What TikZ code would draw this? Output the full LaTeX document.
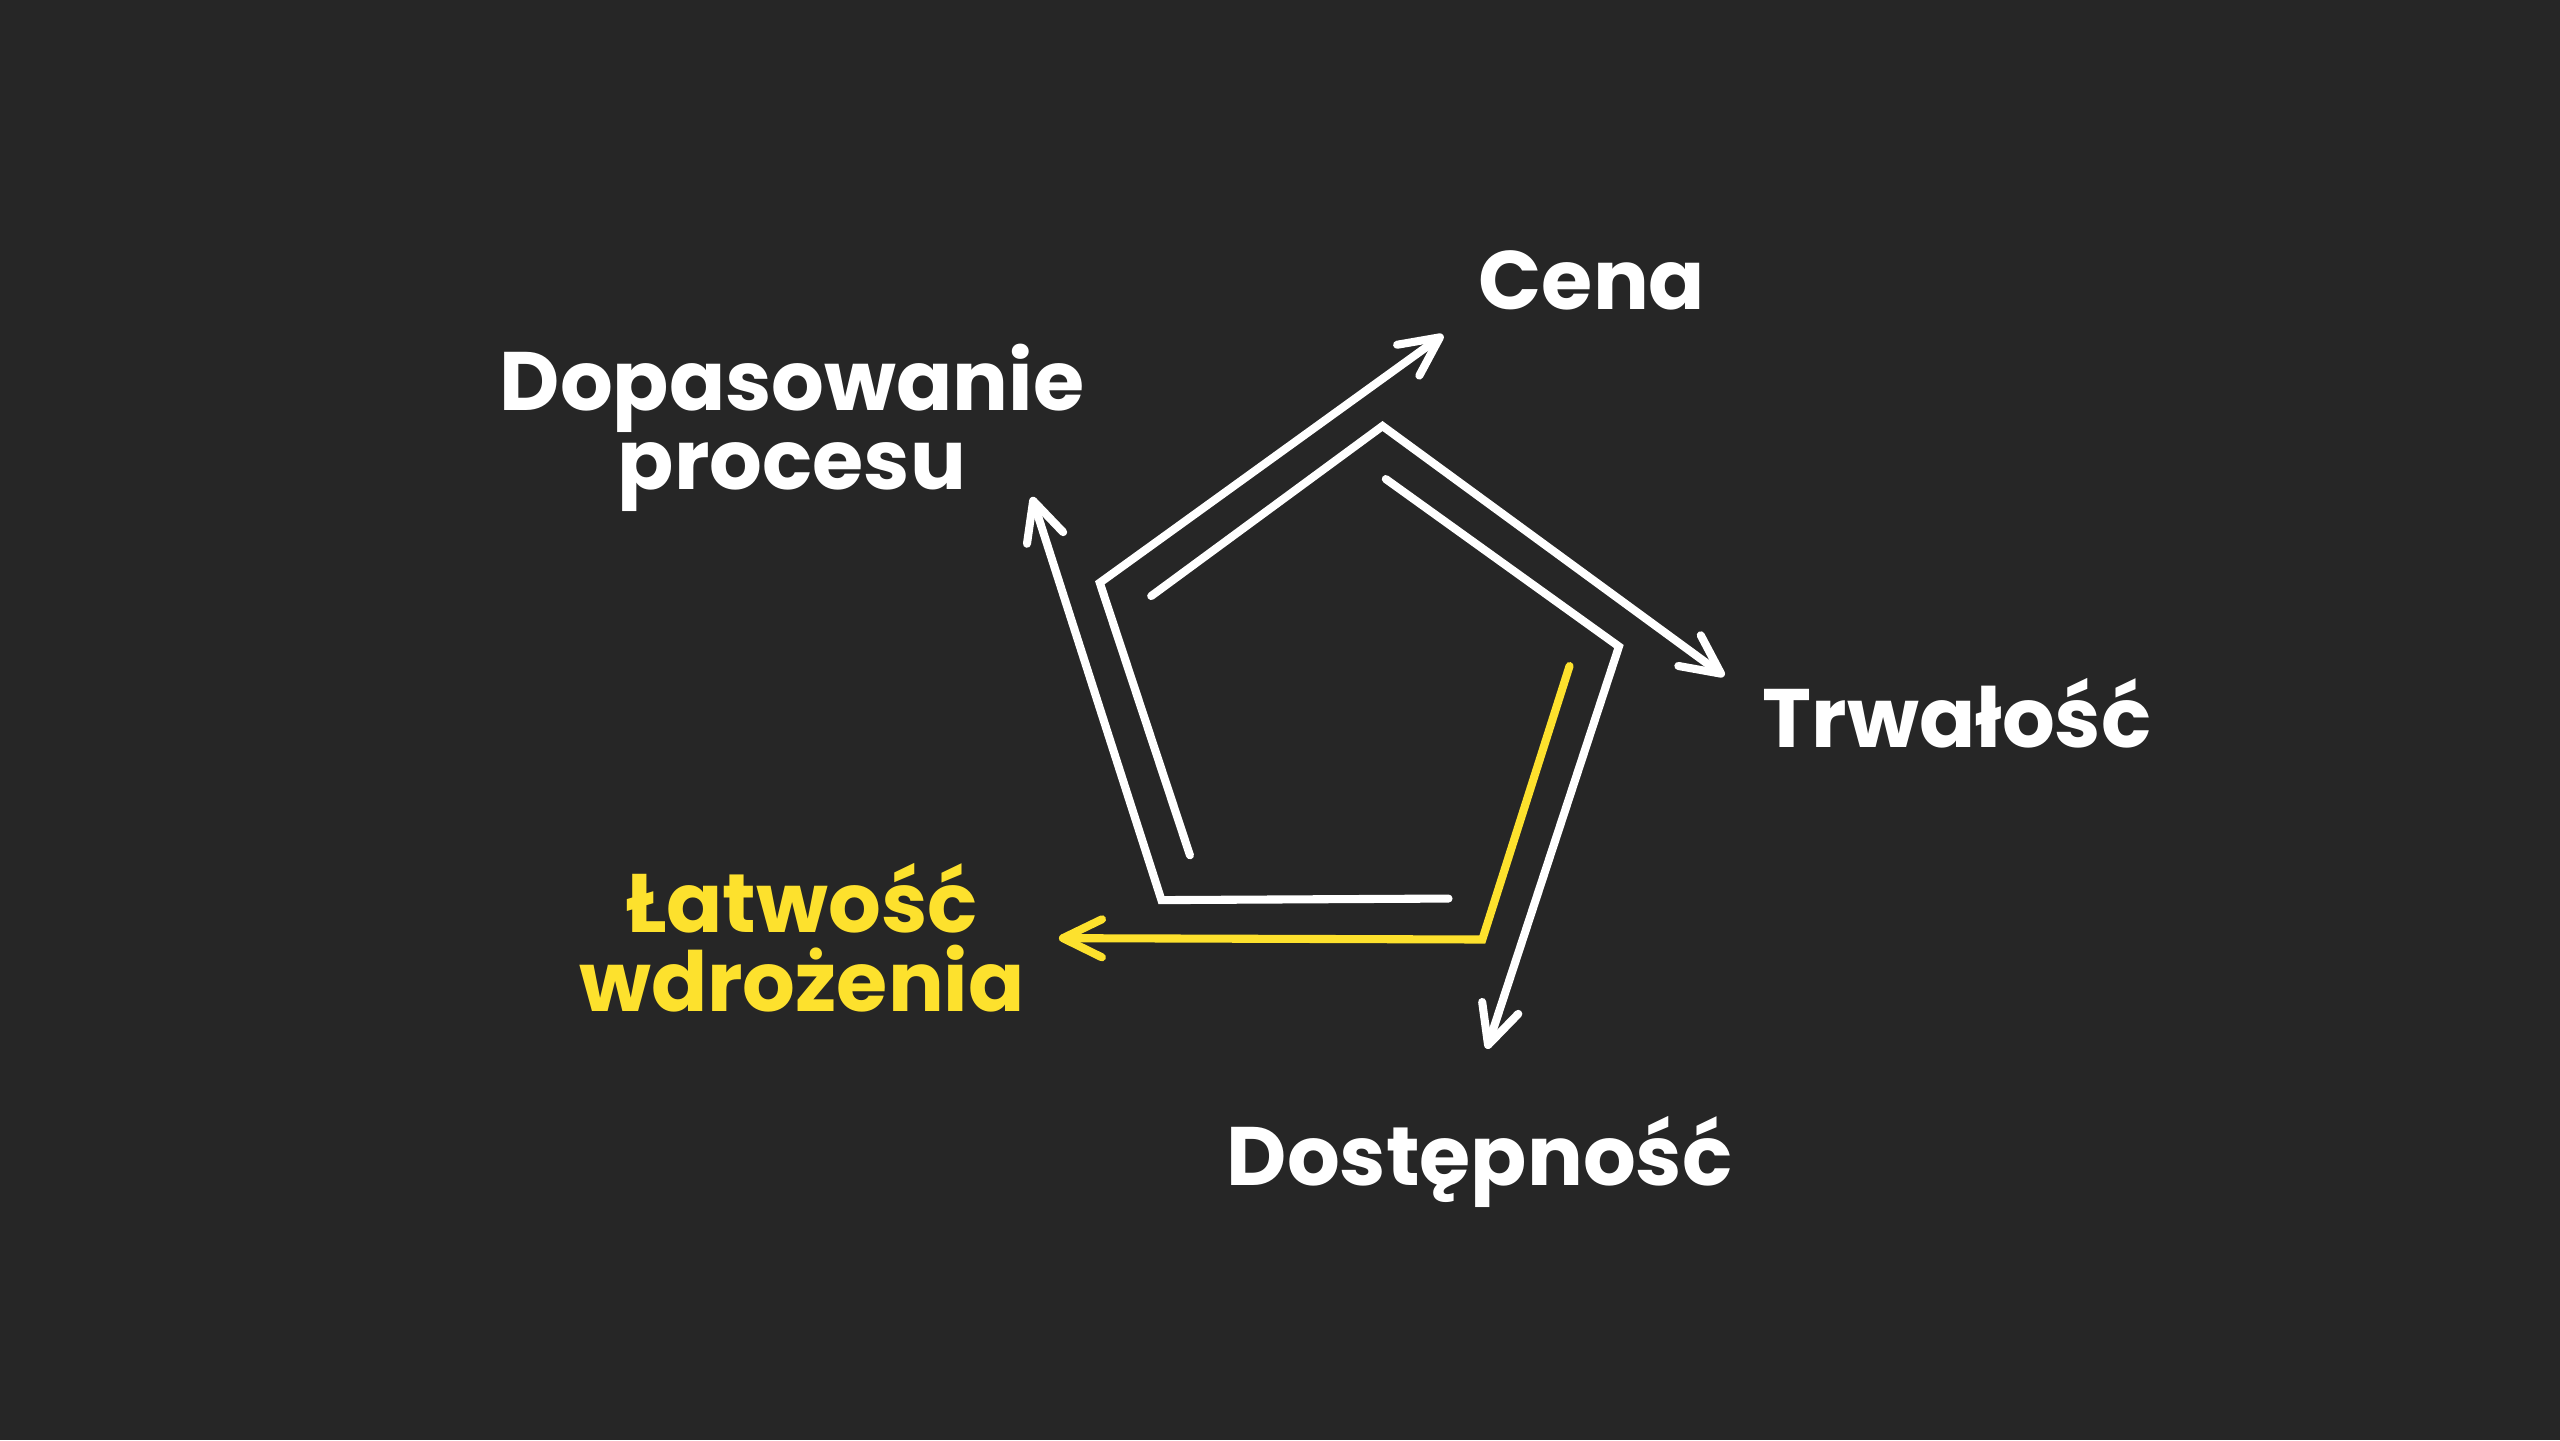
\documentclass[tikz,border=0pt]{standalone}
\usepackage{fontspec}
\setmainfont{Poppins}
\usetikzlibrary{arrows.meta}

\definecolor{bg}{HTML}{262626}
\definecolor{accent}{HTML}{FDE12D}

\begin{document}
\begin{tikzpicture}
    \tikzstyle{side}=[draw=white, line width=2.3pt, line cap=round, -{Straight Barb[length=3.9mm,width=3.8mm,round]}]
    \tikzstyle{txt}=[text=white, inner sep=0pt, font=\bfseries\fontsize{23.6}{22.5}\selectfont, align=center]
    \fill[bg] (0,0) rectangle (25.6,14.4); % background
    \useasboundingbox (0,0) rectangle (25.6,14.4);

    % Five broken sides of the pentagon, each turned by 72 degrees
    \begin{scope}[shift={(13.49,7.41)}]
        \foreach \k in {0,...,4} {
            \coordinate (s\k) at ({152.5-72*\k}:2.23);
            \coordinate (v\k) at ({83-72*\k}:2.75);
            \coordinate (t\k) at ({3.5-72*\k}:3.76);
        }
        \foreach \k in {0,1,3,4} {
            \draw[side] (s\k) -- (v\k) -- (t\k);
        }
        \draw[side, draw=accent] (s2) -- (v2) -- (t2); % highlighted side
    \end{scope}

    \node[txt, anchor=base west] (cena) at (14.78,11.30) {Cena};
    \node[txt, anchor=base west] (trwalosc) at (17.62,6.92) {Trwałość};
    \node[txt, anchor=base west] (dostepnosc) at (12.26,2.55) {Dostępność};
    \node[txt] (dopasowanie) at (7.92,10.12) {Dopasowanie\\procesu};
    \node[txt, text=accent] (latwosc) at (8.02,5.02) {Łatwość\\wdrożenia};
\end{tikzpicture}
\end{document}
